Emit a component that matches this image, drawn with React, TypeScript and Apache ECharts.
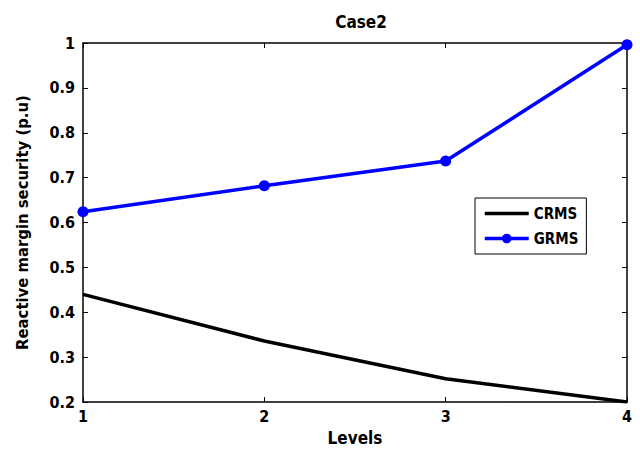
import React, { useEffect, useRef } from "react";
import * as echarts from "echarts";

const levels = [1, 2, 3, 4];
const crms = [0.44, 0.336, 0.252, 0.2];
const grms = [0.624, 0.682, 0.737, 0.996];
const FONT = "'DejaVu Sans Condensed', 'Liberation Sans Narrow', sans-serif";

export default function App() {
  const ref = useRef<HTMLDivElement>(null);
  useEffect(() => {
    if (!ref.current) return;
    const chart = echarts.init(ref.current, undefined, { renderer: "svg" });
    const textBase = { fontFamily: FONT, fontWeight: "bold" as const, color: "#000" };
    chart.setOption({
      animation: false,
      backgroundColor: "#fff",
      title: {
        text: "Case2",
        left: 356,
        textAlign: "center",
        top: 8,
        textStyle: { ...textBase, fontSize: 17 },
      },
      grid: { left: 83, right: 13, top: 43, bottom: 44 },
      legend: {
        orient: "vertical",
        left: 475,
        top: 198,
        itemWidth: 44,
        itemHeight: 12,
        itemGap: 10,
        padding: [8, 8, 8, 8],
        borderColor: "#000",
        borderWidth: 1,
        backgroundColor: "#fff",
        lineStyle: { width: 3.5 },
        textStyle: { ...textBase, fontSize: 15 },
        data: [
          { name: "CRMS", itemStyle: { opacity: 0 } },
          { name: "GRMS" },
        ],
      },
      xAxis: [
        {
          type: "value",
          min: 1,
          max: 4,
          interval: 1,
          name: "Levels",
          nameLocation: "middle",
          nameGap: 22,
          nameTextStyle: { ...textBase, fontSize: 17 },
          axisLine: { lineStyle: { color: "#000", width: 1.5 } },
          axisTick: { inside: true, length: 5, lineStyle: { color: "#000" } },
          axisLabel: { ...textBase, fontSize: 16, margin: 6 },
          splitLine: { show: false },
        },
        {
          type: "value",
          position: "top",
          min: 1,
          max: 4,
          interval: 1,
          axisLine: { show: true, lineStyle: { color: "#000", width: 1.5 } },
          axisTick: { inside: true, length: 5, lineStyle: { color: "#000" } },
          axisLabel: { show: false },
          splitLine: { show: false },
        },
      ],
      yAxis: [
        {
          type: "value",
          min: 0.2,
          max: 1,
          interval: 0.1,
          name: "Reactive margin security (p.u)",
          nameLocation: "middle",
          nameGap: 52,
          nameTextStyle: { ...textBase, fontSize: 16.5 },
          axisLine: { show: true, lineStyle: { color: "#000", width: 1.5 } },
          axisTick: { inside: true, length: 5, lineStyle: { color: "#000" } },
          axisLabel: {
            ...textBase,
            fontSize: 16,
            margin: 8,
            formatter: (v: number) => String(Math.round(v * 10) / 10),
          },
          splitLine: { show: false },
        },
        {
          type: "value",
          position: "right",
          min: 0.2,
          max: 1,
          interval: 0.1,
          axisLine: { show: true, lineStyle: { color: "#000", width: 1.5 } },
          axisTick: { inside: true, length: 5, lineStyle: { color: "#000" } },
          axisLabel: { show: false },
          splitLine: { show: false },
        },
      ],
      series: [
        {
          name: "CRMS",
          type: "line",
          data: levels.map((x, i) => [x, crms[i]]),
          symbol: "none",
          lineStyle: { color: "#000", width: 3.5 },
          itemStyle: { color: "#000" },
        },
        {
          name: "GRMS",
          type: "line",
          data: levels.map((x, i) => [x, grms[i]]),
          symbol: "circle",
          symbolSize: 11,
          lineStyle: { color: "#0000ff", width: 3.5 },
          itemStyle: { color: "#0000ff" },
        },
      ],
    });
    return () => chart.dispose();
  }, []);
  return <div ref={ref} style={{ width: 640, height: 451, position: "absolute", left: 0, top: 0 }} />;
}
